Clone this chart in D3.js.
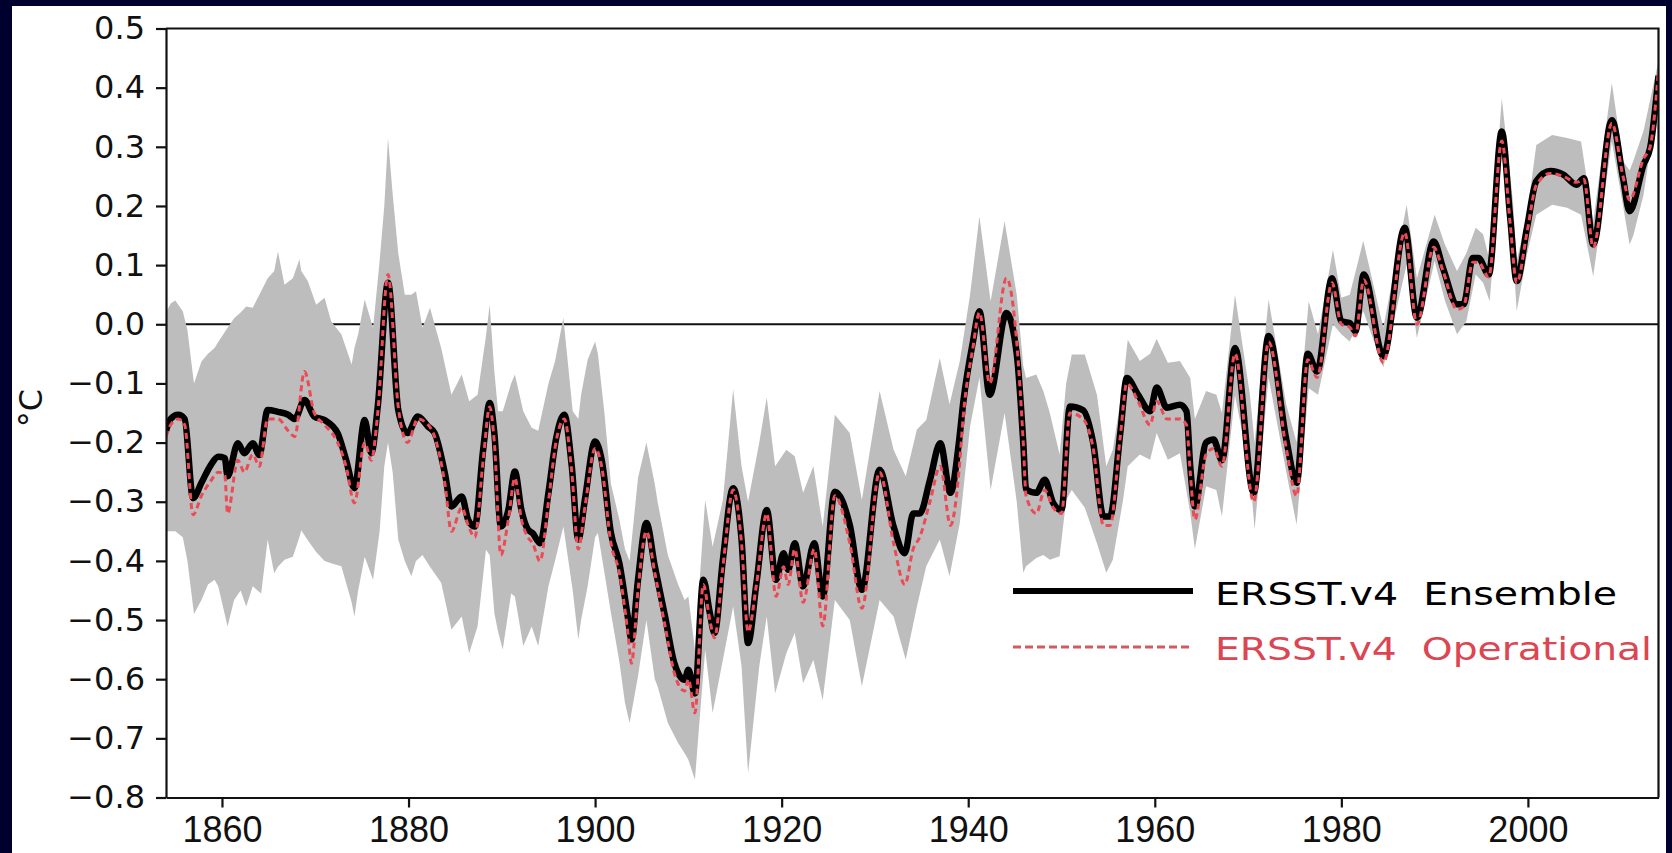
<!DOCTYPE html>
<html>
<head>
<meta charset="utf-8">
<script src="https://cdn.jsdelivr.net/npm/d3@7"></script>
<style>
  html, body { margin: 0; padding: 0; background: #00002e; }
  svg { display: block; }
</style>
</head>
<body>
<svg id="chart" width="1672" height="853"></svg>
<script>
// ---------------- DATA ----------------
const ensYears = [
  1854.0,1854.5,1855.3,1856.0,1856.9,1857.8,1858.8,1859.6,1860.3,1860.6,
  1861.7,1862.4,1863.3,1864.0,1864.9,1866.0,1867.1,1867.8,1868.85,1869.9,
  1871.0,1872.4,1873.3,1874.2,1875.3,1876.0,1876.7,1877.8,1878.9,1879.9,
  1881.0,1882.1,1882.8,1883.9,1884.6,1885.7,1886.4,1887.1,1888.0,1888.7,
  1889.2,1889.9,1890.7,1891.4,1892.1,1892.8,1893.3,1894.1,1895.0,1895.8,
  1896.7,1897.5,1898.2,1898.9,1900.0,1900.7,1901.7,1902.6,1903.5,1903.9,
  1904.6,1905.5,1906.4,1907.5,1908.5,1909.6,1910.0,1910.7,1911.6,1912.3,
  1912.8,1913.7,1914.8,1915.7,1916.4,1917.3,1918.4,1919.4,1920.2,1920.7,
  1921.4,1922.3,1923.5,1924.4,1925.7,1927.3,1928.6,1930.5,1932.0,1933.2,
  1934.1,1934.8,1935.9,1937.0,1938.1,1939.0,1939.5,1940.5,1941.2,1942.3,
  1944.1,1945.2,1945.9,1946.2,1947.3,1948.2,1949.1,1950.0,1950.9,1952.3,
  1953.4,1954.5,1955.2,1956.3,1957.0,1958.2,1959.5,1960.2,1961.3,1962.7,
  1963.4,1963.8,1964.3,1965.5,1966.3,1967.2,1968.6,1970.6,1972.2,1974.1,
  1975.2,1976.4,1977.4,1979.0,1980.0,1980.9,1981.5,1982.4,1984.5,1986.8,
  1988.1,1989.9,1990.9,1992.4,1993.1,1994.1,1994.7,1995.8,1997.2,1998.1,
  1998.8,1999.9,2000.9,2002.4,2003.8,2005.2,2006.0,2007.0,2009.0,2010.2,
  2010.9,2012.4,2013.1,2014.0
];
const ensemble = [
  -0.18,-0.16,-0.153,-0.16,-0.294,-0.268,-0.238,-0.224,-0.226,-0.257,
  -0.201,-0.218,-0.201,-0.221,-0.145,-0.148,-0.153,-0.16,-0.128,-0.156,
  -0.162,-0.184,-0.229,-0.277,-0.162,-0.218,-0.139,0.07,-0.145,-0.184,
  -0.156,-0.173,-0.184,-0.252,-0.308,-0.291,-0.331,-0.342,-0.212,-0.133,
  -0.184,-0.342,-0.314,-0.249,-0.314,-0.347,-0.353,-0.37,-0.285,-0.195,
  -0.153,-0.24,-0.364,-0.297,-0.198,-0.229,-0.353,-0.404,-0.494,-0.533,
  -0.432,-0.336,-0.409,-0.494,-0.573,-0.601,-0.584,-0.624,-0.432,-0.488,
  -0.522,-0.398,-0.277,-0.364,-0.539,-0.437,-0.314,-0.432,-0.387,-0.415,
  -0.37,-0.443,-0.37,-0.46,-0.283,-0.339,-0.449,-0.246,-0.342,-0.387,
  -0.32,-0.32,-0.263,-0.201,-0.285,-0.2,-0.128,-0.03,0.022,-0.119,
  0.019,-0.05,-0.2,-0.279,-0.285,-0.263,-0.302,-0.314,-0.139,-0.145,
  -0.201,-0.325,-0.325,-0.184,-0.091,-0.119,-0.147,-0.107,-0.141,-0.136,
  -0.147,-0.24,-0.308,-0.2,-0.195,-0.23,-0.04,-0.285,-0.02,-0.195,
  -0.268,-0.05,-0.08,0.078,0.005,0.002,-0.012,0.084,-0.054,0.163,
  0.011,0.14,0.095,0.034,0.034,0.112,0.112,0.084,0.326,0.18,
  0.073,0.163,0.242,0.259,0.253,0.236,0.247,0.135,0.345,0.247,
  0.191,0.27,0.298,0.42
];
const operational = [
  -0.19,-0.17,-0.16,-0.17,-0.322,-0.29,-0.265,-0.25,-0.255,-0.32,
  -0.23,-0.25,-0.22,-0.24,-0.16,-0.16,-0.18,-0.19,-0.08,-0.15,
  -0.17,-0.20,-0.24,-0.302,-0.20,-0.23,-0.15,0.084,-0.14,-0.20,
  -0.16,-0.17,-0.19,-0.27,-0.35,-0.31,-0.34,-0.36,-0.23,-0.14,
  -0.20,-0.39,-0.33,-0.26,-0.33,-0.36,-0.37,-0.40,-0.30,-0.20,
  -0.16,-0.25,-0.38,-0.31,-0.21,-0.24,-0.37,-0.42,-0.52,-0.573,
  -0.45,-0.35,-0.42,-0.51,-0.59,-0.62,-0.60,-0.657,-0.44,-0.50,
  -0.53,-0.41,-0.28,-0.37,-0.52,-0.44,-0.32,-0.46,-0.41,-0.44,
  -0.38,-0.47,-0.38,-0.51,-0.29,-0.37,-0.48,-0.25,-0.37,-0.44,
  -0.38,-0.36,-0.30,-0.24,-0.34,-0.25,-0.15,-0.04,0.02,-0.10,
  0.078,-0.03,-0.20,-0.29,-0.32,-0.28,-0.31,-0.32,-0.15,-0.16,
  -0.21,-0.34,-0.34,-0.19,-0.10,-0.13,-0.17,-0.13,-0.16,-0.16,
  -0.17,-0.25,-0.33,-0.22,-0.21,-0.24,-0.05,-0.30,-0.03,-0.21,
  -0.29,-0.06,-0.09,0.07,0.0,-0.005,-0.02,0.075,-0.065,0.155,
  0.0,0.13,0.09,0.025,0.03,0.105,0.105,0.08,0.31,0.17,
  0.07,0.155,0.235,0.255,0.25,0.24,0.245,0.13,0.34,0.25,
  0.21,0.28,0.30,0.43
];

const bandYears = [
  1854.0,1854.5,1855.0,1855.8,1856.3,1857.0,1857.8,1858.5,1859.2,1859.6,
  1860.6,1861.3,1862.0,1862.6,1863.3,1864.2,1864.9,1865.6,1866.0,1866.7,
  1867.6,1868.3,1868.5,1869.2,1870.1,1871.0,1871.7,1872.8,1873.9,1874.2,
  1874.6,1875.3,1876.2,1876.9,1877.4,1877.8,1878.3,1878.9,1879.6,1880.3,
  1880.8,1881.5,1882.3,1883.5,1884.6,1885.7,1886.5,1887.4,1888.3,1888.7,
  1889.2,1889.6,1890.1,1891.0,1891.4,1892.3,1893.2,1893.9,1895.0,1895.7,
  1896.6,1897.6,1898.2,1898.5,1899.2,1900.0,1900.3,1901.0,1901.7,1902.6,
  1903.2,1903.7,1904.6,1905.5,1906.4,1906.7,1907.8,1908.9,1909.6,1910.0,
  1910.7,1911.8,1912.6,1913.7,1914.8,1915.7,1916.4,1917.6,1918.4,1919.3,
  1920.5,1921.4,1922.3,1923.4,1924.4,1925.7,1927.3,1928.6,1930.5,1932.0,
  1933.3,1934.5,1935.5,1936.95,1938.0,1939.1,1940.2,1941.2,1942.4,1943.9,
  1945.2,1945.9,1946.2,1947.3,1948.05,1948.75,1949.8,1950.5,1951.1,1952.5,
  1953.8,1954.8,1955.5,1956.6,1957.1,1958.4,1959.5,1960.2,1961.4,1962.7,
  1963.8,1964.3,1965.5,1966.6,1967.2,1968.6,1970.2,1970.7,1972.2,1974.1,
  1975.2,1976.5,1977.5,1979.1,1980.0,1980.9,1982.35,1984.5,1987.0,1988.1,
  1990.0,1991.1,1992.4,1993.4,1994.4,1995.2,1995.9,1997.2,1998.4,1998.8,
  1999.9,2000.9,2002.6,2004.2,2005.7,2007.0,2009.0,2010.2,2010.9,2011.3,
  2012.4,2014.0
];
const bandLower = [
  -0.35,-0.35,-0.35,-0.36,-0.40,-0.49,-0.466,-0.44,-0.432,-0.443,
  -0.511,-0.466,-0.45,-0.477,-0.443,-0.455,-0.364,-0.421,-0.41,-0.398,
  -0.393,-0.36,-0.348,-0.365,-0.385,-0.40,-0.404,-0.409,-0.47,-0.494,
  -0.45,-0.393,-0.432,-0.35,-0.24,-0.20,-0.25,-0.364,-0.40,-0.426,
  -0.40,-0.39,-0.41,-0.437,-0.516,-0.494,-0.556,-0.511,-0.381,-0.39,
  -0.488,-0.52,-0.55,-0.455,-0.46,-0.544,-0.511,-0.544,-0.443,-0.40,
  -0.342,-0.45,-0.533,-0.50,-0.443,-0.36,-0.353,-0.42,-0.488,-0.57,
  -0.64,-0.674,-0.595,-0.50,-0.60,-0.612,-0.674,-0.708,-0.725,-0.736,
  -0.77,-0.55,-0.657,-0.567,-0.477,-0.578,-0.759,-0.578,-0.494,-0.624,
  -0.556,-0.522,-0.607,-0.567,-0.635,-0.466,-0.50,-0.612,-0.466,-0.494,
  -0.567,-0.477,-0.409,-0.364,-0.426,-0.336,-0.173,-0.09,-0.28,-0.15,
  -0.30,-0.42,-0.409,-0.395,-0.39,-0.398,-0.392,-0.297,-0.28,-0.31,
  -0.37,-0.42,-0.398,-0.297,-0.24,-0.22,-0.229,-0.184,-0.229,-0.218,
  -0.319,-0.38,-0.274,-0.28,-0.325,-0.12,-0.25,-0.347,-0.09,-0.25,
  -0.339,-0.108,-0.119,0.0,-0.017,-0.029,0.022,-0.073,0.101,-0.023,
  0.107,0.04,-0.017,0.005,0.084,0.07,0.039,0.287,0.12,0.022,
  0.118,0.185,0.202,0.197,0.185,0.081,0.309,0.2,0.135,0.15,
  0.219,0.39
];
const bandUpper = [
  0.02,0.035,0.04,0.022,-0.01,-0.10,-0.063,-0.05,-0.04,-0.03,
  -0.006,0.01,0.02,0.03,0.028,0.056,0.078,0.09,0.123,0.067,
  0.078,0.11,0.09,0.073,0.033,0.045,0.005,-0.017,-0.068,-0.04,
  -0.017,0.042,-0.006,0.107,0.2,0.315,0.22,0.12,0.05,0.05,
  0.056,-0.006,0.028,-0.04,-0.119,-0.085,-0.13,-0.119,-0.02,0.033,
  -0.08,-0.147,-0.147,-0.10,-0.085,-0.147,-0.175,-0.18,-0.10,-0.063,
  0.011,-0.147,-0.16,-0.119,-0.06,-0.029,-0.05,-0.15,-0.27,-0.33,
  -0.38,-0.40,-0.26,-0.20,-0.27,-0.30,-0.39,-0.44,-0.466,-0.46,
  -0.55,-0.297,-0.376,-0.297,-0.11,-0.24,-0.30,-0.2,-0.124,-0.24,
  -0.212,-0.223,-0.285,-0.24,-0.342,-0.153,-0.184,-0.297,-0.113,-0.212,
  -0.257,-0.178,-0.162,-0.057,-0.135,-0.062,0.05,0.182,0.039,0.174,
  0.05,-0.07,-0.091,-0.085,-0.113,-0.15,-0.22,-0.10,-0.051,-0.051,
  -0.119,-0.24,-0.212,-0.10,-0.026,-0.062,-0.05,-0.025,-0.065,-0.062,
  -0.091,-0.16,-0.113,-0.119,-0.15,0.05,-0.119,-0.2,0.042,-0.136,
  -0.2,0.039,-0.017,0.126,0.045,0.05,0.141,-0.006,0.202,0.078,
  0.185,0.135,0.09,0.12,0.163,0.152,0.107,0.382,0.208,0.107,
  0.185,0.303,0.32,0.315,0.309,0.174,0.408,0.276,0.26,0.276,
  0.327,0.445
];

const xTicks = [1860, 1880, 1900, 1920, 1940, 1960, 1980, 2000];
const yTicks = [-0.8,-0.7,-0.6,-0.5,-0.4,-0.3,-0.2,-0.1,0.0,0.1,0.2,0.3,0.4,0.5];
const yLabel = "°C";
const legendLabels = ["ERSST.v4  Ensemble", "ERSST.v4  Operational"];

// ---------------- CHART ----------------
const svg = d3.select("#chart");
const W = 1672, H = 853;
const L = 166, R = 1658.5, T = 28.5, B = 797.5;

svg.append("rect").attr("x", 12).attr("y", 6).attr("width", 1654).attr("height", H - 6)
  .attr("fill", "#ffffff");

const x = d3.scaleLinear().domain([1854, 2014]).range([L, R]);
const y = d3.scaleLinear().domain([-0.8, 0.5]).range([B, T]);

const clip = svg.append("clipPath").attr("id", "plotclip")
  .append("rect").attr("x", L).attr("y", T).attr("width", R - L).attr("height", B - T);

const plot = svg.append("g").attr("clip-path", "url(#plotclip)");

// zero line (drawn under the band)
plot.append("line")
  .attr("x1", L).attr("x2", R).attr("y1", y(0)).attr("y2", y(0))
  .attr("stroke", "#111").attr("stroke-width", 2.2);

const band = bandYears.map((yr, i) => ({ yr, lo: bandLower[i], hi: bandUpper[i] }));
plot.append("path")
  .datum(band)
  .attr("fill", "#bdbdbd")
  .attr("d", d3.area().x(d => x(d.yr)).y0(d => y(d.lo)).y1(d => y(d.hi)).curve(d3.curveLinear));

const ens = ensYears.map((yr, i) => ({ yr, v: ensemble[i] }));
const op = ensYears.map((yr, i) => ({ yr, v: operational[i] }));
const line = d3.line().x(d => x(d.yr)).y(d => y(d.v)).curve(d3.curveMonotoneX);

plot.append("path").datum(ens)
  .attr("fill", "none").attr("stroke", "#000").attr("stroke-width", 6.5)
  .attr("stroke-linejoin", "round").attr("d", line);

plot.append("path").datum(op)
  .attr("fill", "none").attr("stroke", "#ec4a55").attr("stroke-width", 3)
  .attr("stroke-dasharray", "6,4").attr("d", line);

// axes
const yAxis = d3.axisLeft(y).tickValues(yTicks).tickSize(10).tickSizeOuter(0).tickPadding(11)
  .tickFormat(d3.format(".1f"));
const gy = svg.append("g").attr("transform", `translate(${L},0)`).call(yAxis);
gy.selectAll("text").attr("font-family", "DejaVu Sans, sans-serif").attr("font-size", 32).attr("fill", "#111");

const xAxis = d3.axisBottom(x).tickValues(xTicks).tickSize(10).tickSizeOuter(0).tickPadding(9)
  .tickFormat(d3.format("d"));
const gx = svg.append("g").attr("transform", `translate(0,${B})`).call(xAxis);
gx.selectAll("text").attr("font-family", "Liberation Sans, Arial, sans-serif").attr("font-size", 36).attr("fill", "#111");

[gx, gy].forEach(g => {
  g.selectAll("line").attr("stroke", "#111").attr("stroke-width", 2.2);
  g.select(".domain").attr("stroke", "#111").attr("stroke-width", 2.2);
});

// frame top / right
svg.append("path")
  .attr("d", `M${L},${T}H${R}V${B}`)
  .attr("fill", "none").attr("stroke", "#111").attr("stroke-width", 2.2);

// y label
svg.append("text")
  .attr("transform", `translate(42,408) rotate(-90)`)
  .attr("text-anchor", "middle")
  .attr("font-family", "DejaVu Sans, sans-serif").attr("font-size", 32).attr("fill", "#111")
  .text(yLabel);

// legend
const lg = svg.append("g");
lg.append("line").attr("x1", 1013).attr("x2", 1193).attr("y1", 591).attr("y2", 591)
  .attr("stroke", "#000").attr("stroke-width", 6);
lg.append("line").attr("x1", 1013).attr("x2", 1193).attr("y1", 647).attr("y2", 647)
  .attr("stroke", "#d45a60").attr("stroke-width", 3).attr("stroke-dasharray", "8,4");
lg.append("text").attr("x", 1215).attr("y", 605)
  .attr("font-family", "DejaVu Sans, sans-serif").attr("font-size", 32).attr("fill", "#000")
  .style("white-space", "pre")
  .attr("textLength", 402).attr("lengthAdjust", "spacingAndGlyphs")
  .text(legendLabels[0]);
lg.append("text").attr("x", 1215).attr("y", 660)
  .attr("font-family", "DejaVu Sans, sans-serif").attr("font-size", 32).attr("fill", "#dc4552")
  .style("white-space", "pre")
  .attr("textLength", 437).attr("lengthAdjust", "spacingAndGlyphs")
  .text(legendLabels[1]);
</script>
</body>
</html>
